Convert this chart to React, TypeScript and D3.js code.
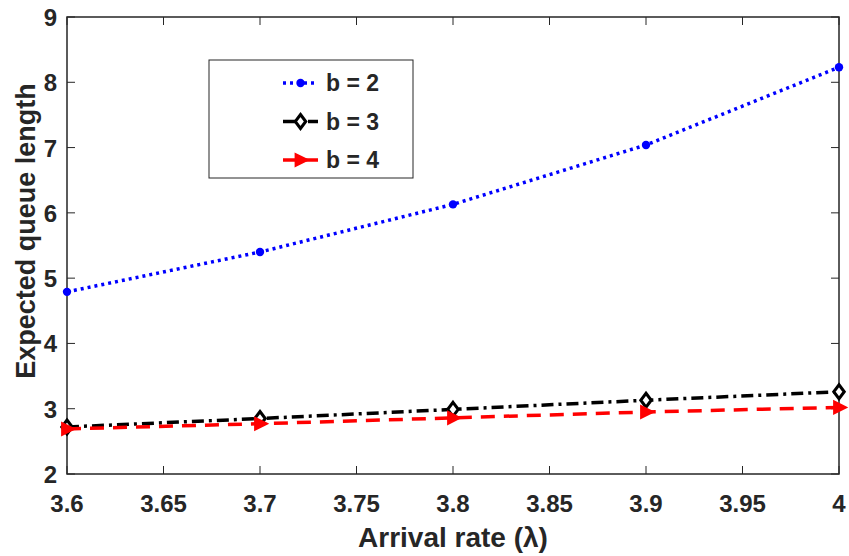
import React, { useEffect, useRef } from "react";
import * as d3 from "d3";

const arrivalRates = [3.6, 3.7, 3.8, 3.9, 4.0];
const queueB2 = [4.79, 5.4, 6.13, 7.04, 8.23];
const queueB3 = [2.72, 2.85, 2.99, 3.13, 3.26];
const queueB4 = [2.69, 2.77, 2.86, 2.95, 3.02];
const xTicks = [3.6, 3.65, 3.7, 3.75, 3.8, 3.85, 3.9, 3.95, 4];
const yTicks = [2, 3, 4, 5, 6, 7, 8, 9];

const W = 849;
const H = 556;
const margin = { top: 17, right: 10, bottom: 82, left: 67 };
const AX = "#262626";
const FONT = "Liberation Sans, Arial, Helvetica, sans-serif";

const series = [
  { name: "b = 2", values: queueB2, color: "#0000ff", dash: "3,4", marker: "star" },
  { name: "b = 3", values: queueB3, color: "#000000", dash: "12,5,3,5", marker: "diamond" },
  { name: "b = 4", values: queueB4, color: "#ff0000", dash: "14,9", marker: "triangle" },
];

const App = () => {
  const svgRef = useRef<SVGSVGElement>(null);

  useEffect(() => {
    const svg = d3.select(svgRef.current).attr("width", W).attr("height", H);
    svg.selectAll("*").remove();

    const x = d3.scaleLinear().domain([3.6, 4]).range([margin.left, W - margin.right]);
    const y = d3.scaleLinear().domain([2, 9]).range([H - margin.bottom, margin.top]);
    const [x0, x1] = x.range();
    const [y0, y1] = y.range();

    const g = svg.append("g");

    // axes box with inward ticks
    g.append("rect")
      .attr("x", x0).attr("y", y1)
      .attr("width", x1 - x0).attr("height", y0 - y1)
      .attr("fill", "none").attr("stroke", AX).attr("stroke-width", 1.5);

    const tl = 8;
    xTicks.forEach((t) => {
      g.append("line").attr("x1", x(t)).attr("x2", x(t)).attr("y1", y0).attr("y2", y0 - tl).attr("stroke", AX);
      g.append("line").attr("x1", x(t)).attr("x2", x(t)).attr("y1", y1).attr("y2", y1 + tl).attr("stroke", AX);
      g.append("text")
        .attr("x", x(t)).attr("y", 512)
        .attr("text-anchor", "middle")
        .attr("font-family", FONT).attr("font-weight", "bold").attr("font-size", 24)
        .attr("fill", AX)
        .text(String(t));
    });
    yTicks.forEach((t) => {
      g.append("line").attr("x1", x0).attr("x2", x0 + tl).attr("y1", y(t)).attr("y2", y(t)).attr("stroke", AX);
      g.append("line").attr("x1", x1).attr("x2", x1 - tl).attr("y1", y(t)).attr("y2", y(t)).attr("stroke", AX);
      g.append("text")
        .attr("x", x0 - 10).attr("y", y(t) + 9)
        .attr("text-anchor", "end")
        .attr("font-family", FONT).attr("font-weight", "bold").attr("font-size", 24)
        .attr("fill", AX)
        .text(String(t));
    });

    g.append("text")
      .attr("x", 453).attr("y", 547)
      .attr("text-anchor", "middle")
      .attr("font-family", FONT).attr("font-weight", "bold").attr("font-size", 28)
      .attr("fill", AX)
      .text("Arrival rate (λ)");

    g.append("text")
      .attr("transform", `translate(35,231) rotate(-90)`)
      .attr("text-anchor", "middle")
      .attr("font-family", FONT).attr("font-weight", "bold").attr("font-size", 27)
      .attr("fill", AX)
      .text("Expected queue length");

    const drawMarker = (sel: any, type: string, color: string, cx: number, cy: number, s: number) => {
      if (type === "star") {
        sel.append("circle").attr("cx", cx).attr("cy", cy).attr("r", s * 0.6).attr("fill", color);
      } else if (type === "diamond") {
        sel.append("path")
          .attr("d", `M${cx},${cy - s}L${cx + s * 0.75},${cy}L${cx},${cy + s}L${cx - s * 0.75},${cy}Z`)
          .attr("fill", "white").attr("stroke", color).attr("stroke-width", 3);
      } else {
        sel.append("path")
          .attr("d", `M${cx + s},${cy}L${cx - s * 0.7},${cy - s * 0.85}L${cx - s * 0.7},${cy + s * 0.85}Z`)
          .attr("fill", color).attr("stroke", color).attr("stroke-width", 2);
      }
    };

    const line = d3.line<number>().x((_, i) => x(arrivalRates[i])).y((d) => y(d));

    series.forEach((s) => {
      g.append("path")
        .datum(s.values)
        .attr("d", line)
        .attr("fill", "none")
        .attr("stroke", s.color)
        .attr("stroke-width", 3.5)
        .attr("stroke-dasharray", s.dash);
      s.values.forEach((v, i) => drawMarker(g, s.marker, s.color, x(arrivalRates[i]), y(v), 7));
    });

    // legend
    const lg = g.append("g");
    lg.append("rect")
      .attr("x", 209).attr("y", 60).attr("width", 204).attr("height", 118)
      .attr("fill", "white").attr("stroke", AX).attr("stroke-width", 1);
    series.forEach((s, i) => {
      const ly = 83 + i * 38.5;
      lg.append("line")
        .attr("x1", 283).attr("x2", 318).attr("y1", ly).attr("y2", ly)
        .attr("stroke", s.color).attr("stroke-width", 3.5).attr("stroke-dasharray", s.dash);
      drawMarker(lg, s.marker, s.color, 300.5, ly, 7);
      lg.append("text")
        .attr("x", 326).attr("y", ly + 8)
        .attr("font-family", FONT).attr("font-weight", "bold").attr("font-size", 23)
        .attr("fill", AX)
        .text(s.name);
    });
  }, []);

  return <svg ref={svgRef} style={{ position: "absolute", left: 0, top: 0 }}></svg>;
};

export default App;
